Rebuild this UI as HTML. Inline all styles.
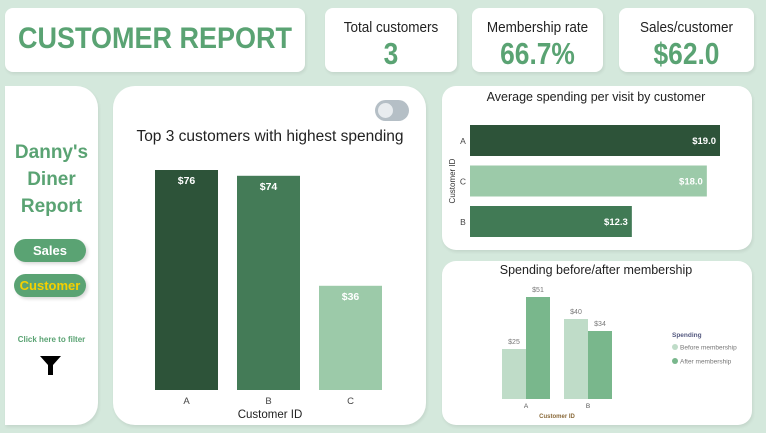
<!DOCTYPE html>
<html><head><meta charset="utf-8"><style>
*{box-sizing:border-box;margin:0;padding:0}
body{width:766px;height:433px;background:#d4e8dc;font-family:"Liberation Sans",sans-serif;position:relative;overflow:hidden}
.card{position:absolute;background:#fff;border-radius:8px;box-shadow:1px 2px 3px rgba(0,0,0,0.08)}
.kt{position:absolute;left:0;right:0;top:11px;text-align:center;font-size:15px;color:#222;transform:scaleX(0.9);white-space:nowrap}
.kv{position:absolute;left:0;right:0;top:28px;text-align:center;font-size:31px;font-weight:bold;color:#5aa373;transform:scaleX(0.85);white-space:nowrap}
.pill{position:absolute;left:9px;width:72px;height:23px;border-radius:12px;background:#5aa373;color:#fff;font-weight:bold;font-size:13px;text-align:center;line-height:23px;box-shadow:2px 2px 3px rgba(0,0,0,0.15)}
svg text{font-family:"Liberation Sans",sans-serif}
</style></head><body>
<div class="card" style="left:5px;top:8px;width:300px;height:64px">
<div style="position:absolute;left:-20px;right:-20px;top:14px;text-align:center;font-size:30px;font-weight:bold;color:#5aa373;transform:scaleX(0.9);white-space:nowrap">CUSTOMER REPORT</div></div>
<div class="card" style="left:325px;top:8px;width:132px;height:64px"><div class="kt">Total customers</div><div class="kv">3</div></div>
<div class="card" style="left:472px;top:8px;width:131px;height:64px"><div class="kt">Membership rate</div><div class="kv">66.7%</div></div>
<div class="card" style="left:619px;top:8px;width:135px;height:64px"><div class="kt">Sales/customer</div><div class="kv">$62.0</div></div>

<div class="card" style="left:5px;top:86px;width:93px;height:339px;border-radius:0 22px 22px 0">
<div style="position:absolute;left:0;right:0;top:53px;text-align:center;font-size:19px;font-weight:bold;color:#5aa373;line-height:27px">Danny's<br>Diner<br>Report</div>
<div class="pill" style="top:153px">Sales</div>
<div class="pill" style="top:188px;color:#f5d000">Customer</div>
<div style="position:absolute;left:0;right:0;top:249px;text-align:center;font-size:8px;font-weight:bold;color:#5aa373;white-space:nowrap">Click here to filter</div>
<svg style="position:absolute;left:34px;top:268px" width="24" height="24"><path d="M1 2 H22 L14 11 V21 H9 V11 Z" fill="#000"/></svg>
</div>

<div class="card" style="left:113px;top:86px;width:313px;height:339px;border-radius:22px">
<div style="position:absolute;left:262px;top:14px;width:34px;height:21px;border-radius:11px;background:#b5bfc6"><div style="position:absolute;left:3px;top:3px;width:15px;height:15px;border-radius:50%;background:#e8ecef"></div></div>
</div>
<svg id="main" style="position:absolute;left:0;top:0" width="766" height="433">
<text x="270" y="141" text-anchor="middle" font-size="15.5" fill="#222">Top 3 customers with highest spending</text>
<text x="270" y="418" text-anchor="middle" font-size="11.5" fill="#222">Customer ID</text>
</svg>

<div class="card" style="left:442px;top:86px;width:310px;height:164px;border-radius:14px"></div>
<svg id="avg" style="position:absolute;left:0;top:0" width="766" height="433">
<text x="596" y="101" text-anchor="middle" font-size="12.5" fill="#222">Average spending per visit by customer</text>
<text transform="translate(455,181) rotate(-90)" text-anchor="middle" font-size="8" fill="#333">Customer ID</text>
</svg>

<div class="card" style="left:442px;top:261px;width:310px;height:164px;border-radius:14px"></div>
<svg id="mem" style="position:absolute;left:0;top:0" width="766" height="433">
<text x="596" y="274" text-anchor="middle" font-size="12.5" fill="#222">Spending before/after membership</text>
<text x="557" y="418" text-anchor="middle" font-size="6" font-weight="bold" fill="#8a6a3a">Customer ID</text>
<text x="672" y="337" font-size="6.5" font-weight="bold" fill="#555a80">Spending</text>
<circle cx="675" cy="347" r="3" fill="#bfdcc8"/>
<text x="680" y="349.5" font-size="6.5" fill="#777">Before membership</text>
<circle cx="675" cy="361" r="3" fill="#79b78c"/>
<text x="680" y="363.5" font-size="6.5" fill="#777">After membership</text>
</svg>

<script>
const topCats=["A","B","C"];
const topVals=[76,74,36];
const topColors=["#2d5339","#447b57","#9ccaa9"];
const avgCats=["A","C","B"];
const avgVals=[19.0,18.0,12.3];
const avgColors=["#2d5339","#9ccaa9","#417a55"];
const memCats=["A","B"];
const beforeVals=[25,40];
const afterVals=[51,34];
const NS="http://www.w3.org/2000/svg";
function mk(svg,tag,attrs,txt){const e=document.createElementNS(NS,tag);for(const k in attrs)e.setAttribute(k,attrs[k]);if(txt!=null)e.textContent=txt;svg.appendChild(e);return e;}

const m=document.getElementById("main");
const mBase=390, mScale=220/76, mX=i=>155+i*82, mW=63;
topCats.forEach((c,i)=>{
  const h=topVals[i]*mScale;
  const r=mk(m,"rect",{x:mX(i),y:mBase-h,width:mW,height:h,fill:topColors[i]});
  
  
  const t=mk(m,"text",{x:mX(i)+mW/2,y:mBase-h+14,"text-anchor":"middle","font-size":"10.5","font-weight":"bold",fill:"#fff"},"$"+topVals[i]);
  
  
  const a=mk(m,"text",{x:mX(i)+mW/2,y:404,"text-anchor":"middle","font-size":"9.5",fill:"#444"},c);
  
  
});

const g=document.getElementById("avg");
const aX0=470, aScale=250/19, aY=i=>125+i*40.5, aH=31;
avgCats.forEach((c,i)=>{
  const w=avgVals[i]*aScale;
  const r=mk(g,"rect",{x:aX0,y:aY(i),width:w,height:aH,fill:avgColors[i]});
  
  
  const t=mk(g,"text",{x:aX0+w-4,y:aY(i)+19,"text-anchor":"end","font-size":"9.5","font-weight":"bold",fill:"#fff"},"$"+avgVals[i].toFixed(1));
  
  
  const a=mk(g,"text",{x:463,y:aY(i)+19,"text-anchor":"middle","font-size":"8.5",fill:"#444"},c);
  
  
});

const s=document.getElementById("mem");
const sBase=399, sScale=2, sX=i=>502+i*62, sW=24;
memCats.forEach((c,i)=>{
  [[beforeVals,"#bfdcc8","before"],[afterVals,"#79b78c","after"]].forEach((d,j)=>{
    const v=d[0][i], h=v*sScale, x=sX(i)+j*sW;
    const r=mk(s,"rect",{x:x,y:sBase-h,width:sW,height:h,fill:d[1]});
    
    
    const t=mk(s,"text",{x:x+sW/2,y:sBase-h-5,"text-anchor":"middle","font-size":"7",fill:"#777"},"$"+v);
    
    
  });
  const a=mk(s,"text",{x:sX(i)+sW,y:408,"text-anchor":"middle","font-size":"6.5",fill:"#555"},c);
  
  
});
</script>
</body></html>
